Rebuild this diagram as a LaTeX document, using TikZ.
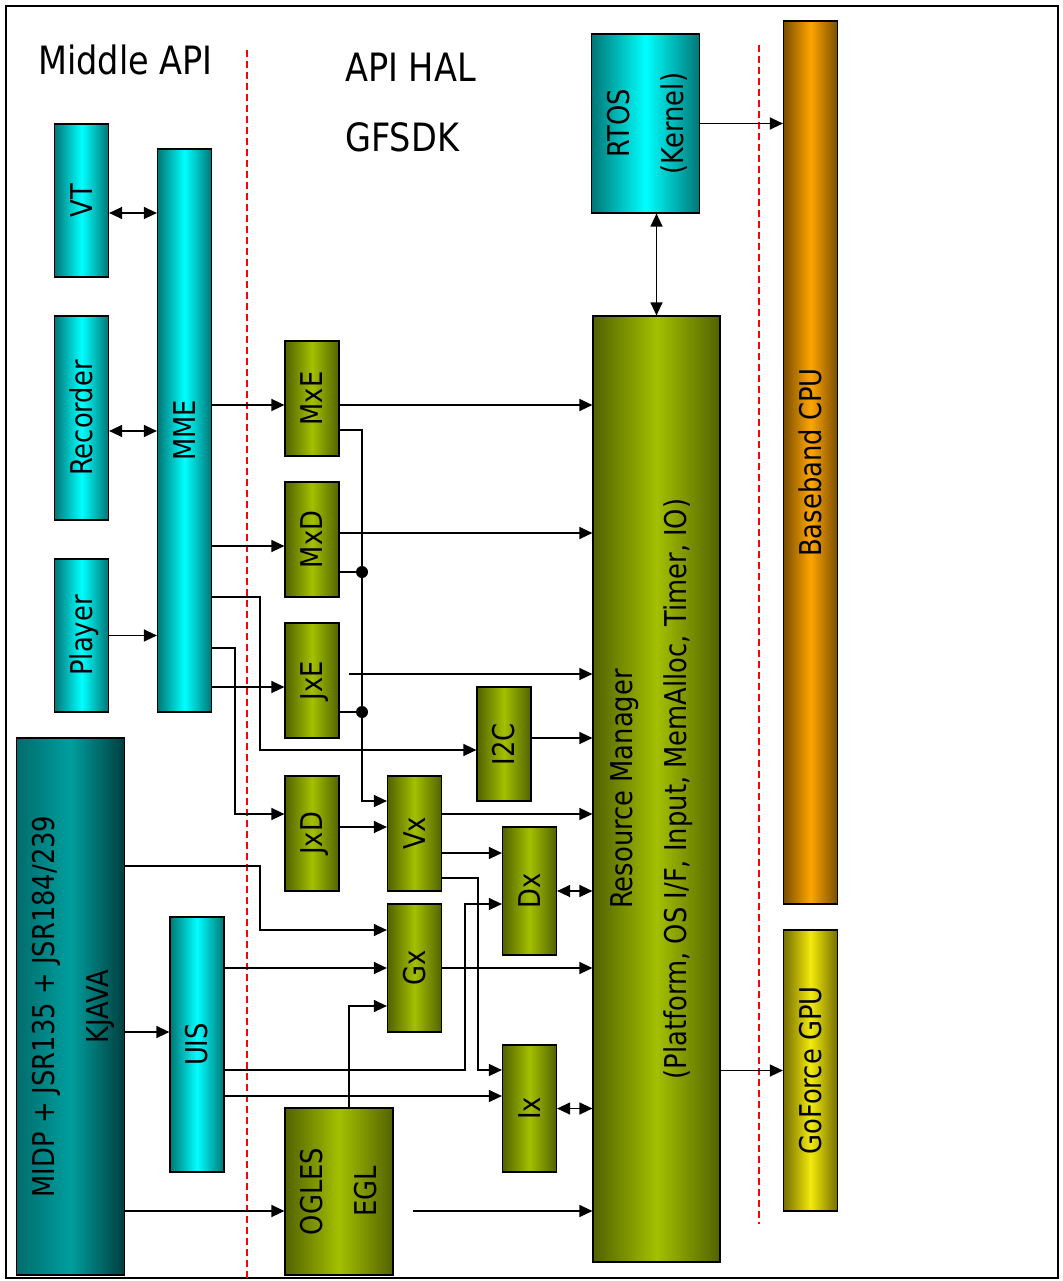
\documentclass[tikz,border=0pt]{standalone}
\usepackage{fontspec}
\setmainfont{DejaVu Sans}[FakeStretch=0.86]
\usetikzlibrary{arrows.meta}
\definecolor{cyanmid}{RGB}{0,255,255}
\definecolor{cyanedge}{RGB}{0,118,118}
\definecolor{javaleft}{RGB}{0,108,108}
\definecolor{javamid}{RGB}{0,158,158}
\definecolor{javaright}{RGB}{0,62,62}
\definecolor{olivemid}{RGB}{163,192,0}
\definecolor{oliveedge}{RGB}{82,98,0}
\definecolor{orangemid}{RGB}{255,165,0}
\definecolor{orangeedge}{RGB}{122,78,0}
\definecolor{yellowmid}{RGB}{242,234,12}
\definecolor{yellowedge}{RGB}{118,110,0}
\renewcommand{\arraystretch}{1.5}
\newcommand{\vlabel}[1]{\rotatebox{90}{\begin{tabular}{@{}c@{}}#1\end{tabular}}}

\begin{document}
\begin{tikzpicture}[x=1pt,y=-1pt,
	every node/.style={inner sep=0pt, font=\fontsize{30}{36}\selectfont},
	sz/.style 2 args={minimum width=#1pt, minimum height=#2pt},
	blk/.style={rectangle, draw=black, line width=1.2pt},
	cyanblk/.style={blk, left color=cyanedge, right color=cyanedge, middle color=cyanmid},
	javablk/.style={blk, left color=javaleft, right color=javaright, middle color=javamid},
	oliveblk/.style={blk, left color=oliveedge, right color=oliveedge, middle color=olivemid},
	orangeblk/.style={blk, left color=orangeedge, right color=orangeedge, middle color=orangemid},
	yellowblk/.style={blk, left color=yellowedge, right color=yellowedge, middle color=yellowmid},
	wire/.style={line width=1.3pt},
	arr/.style={wire, -{Triangle[length=13pt,width=12pt]}},
	darr/.style={wire, {Triangle[length=13pt,width=12pt]}-{Triangle[length=13pt,width=12pt]}},
	dot/.style={circle, fill=black, minimum size=12pt},
	sep/.style={red, line width=1.2pt, dash pattern=on 7pt off 4pt},
	title/.style={font=\fontsize{39}{47}\selectfont, anchor=base west}]
	\useasboundingbox (0,0) rectangle (1062,1281);
	\draw [line width=2pt] (6,6) rectangle (1058,1278);
	\draw [sep] (247,50) -- (247,1278);
	\draw [sep] (759,45) -- (759,1224);
	\node [title] (midapi) at (38,75) {Middle API};
	\node [title] (apihal) at (345,81.7) {API HAL};
	\node [title] (gfsdk) at (345,151.7) {GFSDK};

	\node [cyanblk, sz={53}{153}] (vt) at (81.5,200.5) {\vlabel{VT}};
	\node [cyanblk, sz={53}{204}] (rec) at (81.5,418) {\vlabel{Recorder}};
	\node [cyanblk, sz={53}{153}] (play) at (81.5,635.5) {\vlabel{Player}};
	\node [cyanblk, sz={53}{563}] (mme) at (184.5,430.5) {\vlabel{MME}};
	\node [cyanblk, sz={105}{179}] (rtos) at (645.5,123.5) {\vlabel{RTOS\\(Kernel)}};
	\node [cyanblk, sz={53}{255}] (uis) at (197,1044.5) {\vlabel{UIS}};
	\node [javablk, sz={105}{537}] (kjava) at (70.5,1006.5) {\vlabel{MIDP + JSR135 + JSR184/239\\KJAVA}};

	\node [oliveblk, sz={52}{115}] (mxe) at (312,398.5) {\vlabel{MxE}};
	\node [oliveblk, sz={52}{115}] (mxd) at (312,539.5) {\vlabel{MxD}};
	\node [oliveblk, sz={52}{115}] (jxe) at (312,680.5) {\vlabel{JxE}};
	\node [oliveblk, sz={52}{114}] (i2c) at (504,744) {\vlabel{I2C}};
	\node [oliveblk, sz={52}{115}] (jxd) at (312,833.5) {\vlabel{JxD}};
	\node [oliveblk, sz={53}{115}] (vx) at (414.5,833.5) {\vlabel{Vx}};
	\node [oliveblk, sz={53}{128}] (dx) at (529.5,891) {\vlabel{Dx}};
	\node [oliveblk, sz={53}{128}] (gx) at (414.5,968) {\vlabel{Gx}};
	\node [oliveblk, sz={53}{127}] (ix) at (529.5,1108.5) {\vlabel{Ix}};
	\node [oliveblk, sz={106}{167}] (ogles) at (339,1191.5) {\vlabel{OGLES\\EGL}};
	\node [oliveblk, sz={127}{946}] (rm) at (656.5,789) {\vlabel{Resource Manager\\(Platform, OS I/F, Input, MemAlloc, Timer, IO)}\kern16pt};
	\node [orangeblk, sz={53}{883}] (cpu) at (810.5,462.5) {\vlabel{Baseband CPU}};
	\node [yellowblk, sz={53}{281}] (gpu) at (810.5,1070.5) {\vlabel{GoForce GPU}};

	\node [dot] (mxdjoin) at (362,572) {};
	\node [dot] (jxejoin) at (362,712) {};
	\coordinate (jxetap) at (349,674);
	\coordinate (oglestap) at (413,1211);

	\draw [darr] (vt.east |- 0,213) -- (mme.west |- 0,213);
	\draw [darr] (rec.east |- 0,431) -- (mme.west |- 0,431);
	\draw [arr] (play.east) -- (mme.west |- play.east);
	\draw [arr] (mme.east |- 0,405) -- (mxe.west |- 0,405);
	\draw [arr] (mme.east |- 0,546) -- (mxd.west |- 0,546);
	\draw [arr] (mme.east |- 0,687) -- (jxe.west |- 0,687);
	\draw [arr] (mme.east |- 0,597) -| (260,750) -- (i2c.west |- 0,750);
	\draw [arr] (mme.east |- 0,648) -| (235,814) -- (jxd.west |- 0,814);
	\draw [arr] (mxe.east |- 0,405) -- (rm.west |- 0,405);
	\draw [arr] (mxe.east |- 0,430) -| (362,801) -- (vx.west |- 0,801);
	\draw [arr] (mxd.east |- 0,533) -- (rm.west |- 0,533);
	\draw [wire] (mxd.east |- mxdjoin) -- (mxdjoin);
	\draw [wire] (jxe.east |- jxejoin) -- (jxejoin);
	\draw [arr] (jxetap) -- (rm.west |- jxetap);
	\draw [arr] (i2c.east |- 0,738) -- (rm.west |- 0,738);
	\draw [arr] (vx.east |- 0,814) -- (rm.west |- 0,814);
	\draw [arr] (jxd.east |- 0,827) -- (vx.west |- 0,827);
	\draw [arr] (vx.east |- 0,853) -- (dx.west |- 0,853);
	\draw [arr] (vx.east |- 0,878) -| (478,1070) -- (ix.west |- 0,1070);
	\draw [darr] (dx.east) -- (rm.west |- dx.east);
	\draw [arr] (uis.east |- 0,1070) -| (465,904) -- (dx.west |- 0,904);
	\draw [arr] (uis.east |- gx.west) -- (gx.west);
	\draw [arr] (uis.east |- 0,1096) -- (ix.west |- 0,1096);
	\draw [arr] (gx.east) -- (rm.west |- gx.east);
	\draw [darr] (ix.east) -- (rm.west |- ix.east);
	\draw [arr] (349,0 |- ogles.north) |- (gx.west |- 0,1006);
	\draw [arr] (kjava.east |- 0,866) -| (260,930) -- (gx.west |- 0,930);
	\draw [arr] (kjava.east |- 0,1032) -- (uis.west |- 0,1032);
	\draw [arr] (kjava.east |- 0,1211) -- (ogles.west |- 0,1211);
	\draw [arr] (oglestap) -- (rm.west |- oglestap);
	\draw [arr] (rtos.east) -- (cpu.west |- rtos.east);
	\draw [darr] (rtos.south -| rm.north) -- (rm.north);
	\draw [arr] (rm.east |- gpu.west) -- (gpu.west);
\end{tikzpicture}
\end{document}
